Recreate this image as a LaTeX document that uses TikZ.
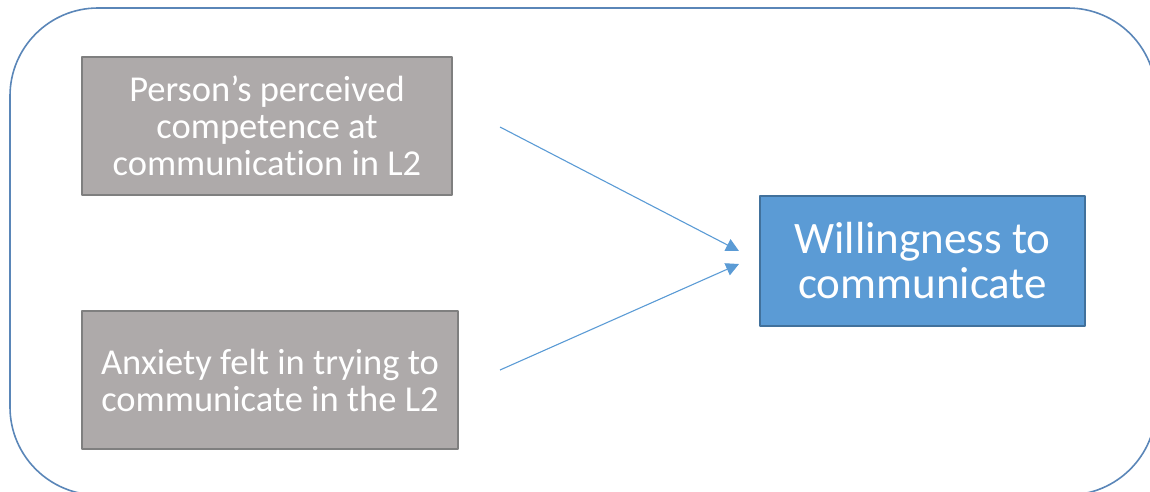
\documentclass[tikz,border=0pt]{standalone}
\usepackage{fontspec}
\setmainfont{Carlito}[RawFeature=-liga]
\usetikzlibrary{arrows.meta}
\definecolor{factorgray}{HTML}{AEAAAA}
\definecolor{factorline}{HTML}{7F7F7F}
\definecolor{wtcblue}{HTML}{5B9BD5}
\definecolor{wtcline}{HTML}{41719C}
\definecolor{frameblue}{HTML}{5A86B8}
\tikzset{
  factor/.style={draw=factorline, fill=factorgray, line width=1.2pt, text=white,
    align=center, inner sep=0pt, font=\fontsize{36.5}{37}\selectfont},
  outcome/.style={draw=wtcline, fill=wtcblue, line width=1.2pt, text=white,
    align=center, inner sep=0pt, font=\fontsize{45}{45}\selectfont},
  link/.style={wtcblue, line width=1.1pt, -{Triangle[length=13pt,width=13pt]}}
}
\begin{document}
\begin{tikzpicture}[x=1pt,y=-1pt,line join=round]
	\useasboundingbox (0,0) rectangle (1150,491);
	\clip (0,0) rectangle (1150,491);
	% outer frame
	\draw[frameblue, line width=1.6pt, rounded corners=88pt] (10,8) rectangle (1156,495);
	% boxes
	\node[factor, minimum width=370pt, minimum height=138pt] (competence) at (267,126)
		{Person’s perceived\\competence at\\communication in L2};
	\node[factor, minimum width=376pt, minimum height=138pt] (anxiety) at (270,380)
		{Anxiety felt in trying to\\communicate in the L2};
	\node[outcome, minimum width=325pt, minimum height=130pt] (wtc) at (922.5,261)
		{Willingness to\\communicate};
	% arrows
	\coordinate (c1) at (500,127);
	\coordinate (c2) at (739,251);
	\coordinate (a1) at (500,370);
	\coordinate (a2) at (739,264);
	\draw[link] (c1) -- (c2);
	\draw[link] (a1) -- (a2);
\end{tikzpicture}
\end{document}
